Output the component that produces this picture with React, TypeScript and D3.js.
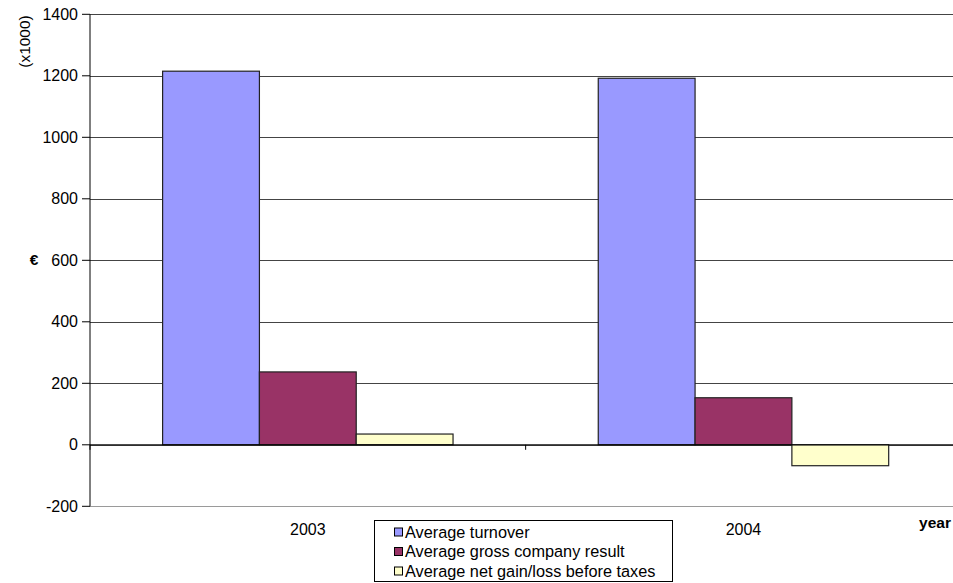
import React from "react";
import * as d3 from "d3";

const years = ["2003", "2004"];
const seriesNames = [
  "Average turnover",
  "Average gross company result",
  "Average net gain/loss before taxes",
];
const turnover = [1215, 1192];
const grossResult = [237, 153];
const netResult = [35, -68];
const seriesColors = ["#9999FF", "#993366", "#FFFFCC"];
const yTicks = [-200, 0, 200, 400, 600, 800, 1000, 1200, 1400];

const W = 953;
const H = 583;
const FONT = "'Liberation Sans', Arial, sans-serif";

export default function App() {
  const plotLeft = 90;
  const plotRight = 961.3;
  const y = d3.scaleLinear().domain([-200, 1400]).range([506.3, 14.3]);
  const x0 = d3.scaleBand<string>().domain(years).range([plotLeft, plotRight]).padding(0);
  const x1 = d3
    .scaleBand<string>()
    .domain(seriesNames)
    .range([0, x0.bandwidth()])
    .paddingInner(0)
    .paddingOuter(0.75);

  const values = [turnover, grossResult, netResult];
  const zeroY = y(0);

  return (
    <svg
      width={W}
      height={H}
      style={{ position: "absolute", left: 0, top: 0, background: "#fff" }}
      fontFamily={FONT}
    >
      {/* gridlines */}
      {yTicks.map((t) => (
        <line
          key={"g" + t}
          x1={plotLeft}
          x2={plotRight}
          y1={Math.round(y(t)) + 0.5}
          y2={Math.round(y(t)) + 0.5}
          stroke={t === -200 ? "#9a9a9a" : "#444"}
          strokeWidth={1}
        />
      ))}

      {/* bars */}
      {years.map((yr, i) => (
        <g key={yr} transform={`translate(${x0(yr)},0)`}>
          {seriesNames.map((s, j) => {
            const v = values[j][i];
            const top = y(Math.max(0, v));
            const bot = y(Math.min(0, v));
            return (
              <rect
                key={s}
                x={x1(s)!}
                y={top}
                width={x1.bandwidth()}
                height={bot - top}
                fill={seriesColors[j]}
                stroke="#222"
                strokeWidth={1.2}
              />
            );
          })}
        </g>
      ))}

      {/* category axis at zero */}
      <line x1={plotLeft} x2={plotRight} y1={zeroY} y2={zeroY} stroke="#000" strokeWidth={1} />
      {[...years.map((yr) => x0(yr)!), plotRight].map((xx, i) => (
        <line key={"ct" + i} x1={xx} x2={xx} y1={zeroY} y2={zeroY + 5} stroke="#000" />
      ))}

      {/* value axis */}
      <line x1={plotLeft} x2={plotLeft} y1={y(1400)} y2={y(-200)} stroke="#000" />
      {yTicks.map((t) => (
        <g key={"t" + t}>
          <line x1={plotLeft - 8} x2={plotLeft} y1={y(t)} y2={y(t)} stroke="#000" />
          <text
            x={78}
            y={y(t)}
            dy="0.35em"
            textAnchor="end"
            fontSize={16}
            fill="#000"
          >
            {t}
          </text>
        </g>
      ))}

      {/* category labels */}
      {years.map((yr) => (
        <text
          key={"cl" + yr}
          x={x0(yr)! + x0.bandwidth() / 2}
          y={535}
          textAnchor="middle"
          fontSize={16}
        >
          {yr}
        </text>
      ))}

      {/* axis titles */}
      <text x={935} y={528} textAnchor="middle" fontSize={15.5} fontWeight="bold">
        year
      </text>
      <text x={34} y={265} textAnchor="middle" fontSize={15.5} fontWeight="bold">
        €
      </text>
      <text
        transform="translate(30,41.5) rotate(-90)"
        textAnchor="middle"
        fontSize={15.5}
      >
        (x1000)
      </text>

      {/* legend */}
      <rect x={374.5} y={520.5} width={298} height={61} fill="#fff" stroke="#000" />
      {seriesNames.map((s, j) => {
        const cy = 532 + j * 19.5;
        return (
          <g key={"lg" + s}>
            <rect x={394.5} y={cy - 4} width={8} height={8} fill={seriesColors[j]} stroke="#000" />
            <text x={405} y={cy} dy="0.36em" fontSize={16.3}>
              {s}
            </text>
          </g>
        );
      })}
    </svg>
  );
}
